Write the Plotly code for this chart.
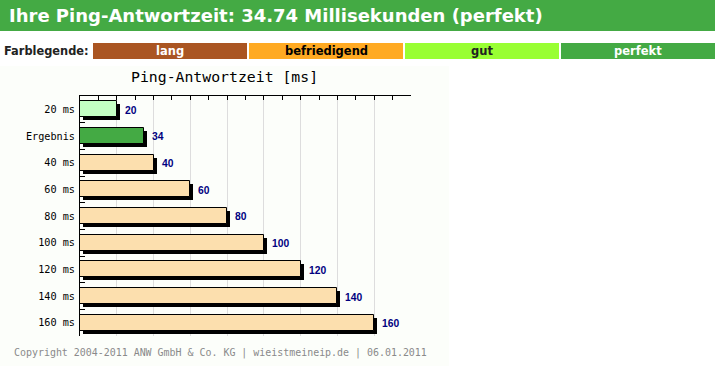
import plotly.graph_objects as go

# ---- data ----
categories = ["20 ms", "Ergebnis", "40 ms", "60 ms", "80 ms", "100 ms", "120 ms", "140 ms", "160 ms"]
values = [20, 34.74, 40, 60, 80, 100, 120, 140, 160]
value_labels = ["20", "34", "40", "60", "80", "100", "120", "140", "160"]
bar_colors = ["#C4FFC4", "#44AA44", "#FCDFAE", "#FCDFAE", "#FCDFAE", "#FCDFAE", "#FCDFAE", "#FCDFAE", "#FCDFAE"]

legend_names = ["lang", "befriedigend", "gut", "perfekt"]
legend_colors = ["#AA5522", "#FFAA22", "#99FF33", "#44AA44"]
legend_text_colors = ["#FFFFFF", "#000000", "#222222", "#FFFFFF"]

header_text = "Ihre Ping-Antwortzeit: 34.74 Millisekunden (perfekt)"
chart_title = "Ping-Antwortzeit [ms]"
footer_text = "Copyright 2004-2011 ANW GmbH &amp; Co. KG | wieistmeineip.de | 06.01.2011"

W, H = 715, 376
X0, X1, Y0, Y1 = 80, 411, 96, 336   # plot area in pixels
XMAX = 180

def px(x):
    return x / W

def py(y):
    return 1 - y / H

xscale = (X1 - X0) / XMAX
band = (Y1 - Y0) / len(categories)
sx = 3 / xscale       # shadow offset in data units (x)
sy = 3 / band         # shadow offset in category units (y)

fig = go.Figure()

# shadows
fig.add_trace(go.Bar(
    y=categories, x=values, base=[sx] * len(values), orientation="h",
    width=0.6, offset=-0.3 + sy,
    marker=dict(color="#000000", line=dict(width=0)),
    hoverinfo="skip", showlegend=False,
))
# bars
fig.add_trace(go.Bar(
    y=categories, x=values, orientation="h",
    width=0.6, offset=-0.3,
    marker=dict(color=bar_colors, line=dict(color="#000000", width=1)),
    showlegend=False,
))

annotations = []
for c, v, t in zip(categories, values, value_labels):
    annotations.append(dict(
        x=v, y=c, xref="x", yref="y", text="<b>%s</b>" % t, showarrow=False,
        xanchor="left", yanchor="middle", xshift=6, yshift=-1,
        font=dict(family="Liberation Sans", size=10.3, color="#000080"),
    ))

shapes = [
    # chart image background
    dict(type="rect", xref="paper", yref="paper", x0=px(0), x1=px(449), y0=py(366), y1=py(66),
         fillcolor="#FCFEFA", line=dict(width=0), layer="below"),
    # header bar
    dict(type="rect", xref="paper", yref="paper", x0=px(0), x1=px(715), y0=py(31), y1=py(0),
         fillcolor="#44AA44", line=dict(width=0), layer="below"),
]
annotations.append(dict(
    x=px(7), y=py(16), xref="paper", yref="paper", text="<b>%s</b>" % header_text,
    showarrow=False, xanchor="left", yanchor="middle",
    font=dict(family="DejaVu Sans", size=18, color="#FFFFFF"),
))
annotations.append(dict(
    x=px(2), y=py(51), xref="paper", yref="paper", text="<b>Farblegende:</b>",
    showarrow=False, xanchor="left", yanchor="middle",
    font=dict(family="DejaVu Sans", size=11.4, color="#222222"),
))
box_x = [(93, 247), (249, 403), (405, 559), (561, 715)]
for (a, b), name, col, tcol in zip(box_x, legend_names, legend_colors, legend_text_colors):
    shapes.append(dict(type="rect", xref="paper", yref="paper", x0=px(a), x1=px(b),
                       y0=py(59), y1=py(43), fillcolor=col, line=dict(width=0), layer="below"))
    annotations.append(dict(
        x=px((a + b) / 2), y=py(51), xref="paper", yref="paper", text="<b>%s</b>" % name,
        showarrow=False, xanchor="center", yanchor="middle",
        font=dict(family="DejaVu Sans", size=11.5, color=tcol),
    ))

annotations.append(dict(
    x=px(224), y=py(77), xref="paper", yref="paper", text=chart_title,
    showarrow=False, xanchor="center", yanchor="middle",
    font=dict(family="DejaVu Sans Mono", size=14.8, color="#000000"),
))
annotations.append(dict(
    x=px(12), y=py(353), xref="paper", yref="paper", text=footer_text,
    showarrow=False, xanchor="left", yanchor="middle",
    font=dict(family="DejaVu Sans Mono", size=9.95, color="#8A8A8A"),
))

fig.update_layout(
    width=W, height=H,
    margin=dict(l=0, r=0, t=0, b=0),
    paper_bgcolor="#FFFFFF",
    plot_bgcolor="rgba(0,0,0,0)",
    barmode="overlay",
    bargap=0,
    shapes=shapes,
    annotations=annotations,
    xaxis=dict(
        domain=[px(X0), px(X1)], range=[0, XMAX], side="top",
        showline=True, linecolor="#000000", linewidth=1, mirror=False,
        ticks="inside", ticklen=4, tickcolor="#000000", dtick=20, tick0=0,
        showticklabels=False, showgrid=True, gridcolor="#DDDDDD", gridwidth=1,
        zeroline=False, automargin=False, fixedrange=True,
        minor=dict(dtick=10, ticks="inside", ticklen=4, tickcolor="#000000", showgrid=False),
    ),
    yaxis=dict(
        domain=[py(Y1), py(Y0)], autorange="reversed", type="category",
        showline=True, linecolor="#000000", linewidth=1,
        ticks="inside", ticklen=5, tickcolor="#000000", tickson="boundaries",
        showgrid=False, zeroline=False, automargin=False, fixedrange=True,
        tickfont=dict(family="DejaVu Sans Mono", size=10.2, color="#000000"),
        ticklabelstandoff=2,
    ),
)

fig.write_html("out.html", post_script="document.body.style.margin='0';",
               config={"displayModeBar": False})
